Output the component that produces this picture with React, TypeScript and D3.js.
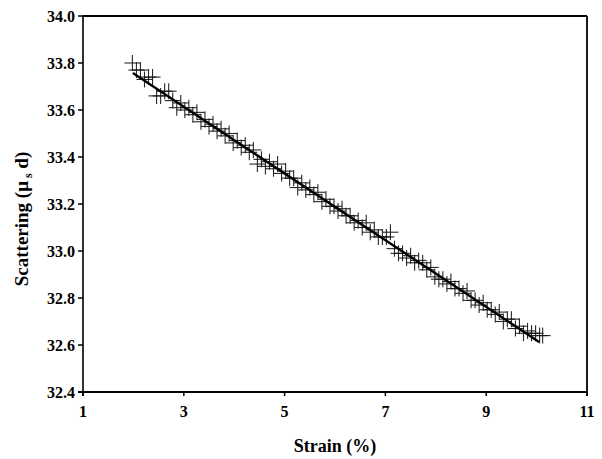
import React from "react";
import * as d3 from "d3";

const strain = [1.98, 2.06, 2.14, 2.22, 2.30, 2.38, 2.46, 2.54, 2.62, 2.70, 2.78, 2.86, 2.94, 3.02, 3.10, 3.18, 3.26, 3.34, 3.42, 3.50, 3.58, 3.66, 3.74, 3.82, 3.90, 3.98, 4.06, 4.14, 4.22, 4.30, 4.38, 4.46, 4.54, 4.62, 4.70, 4.78, 4.86, 4.94, 5.02, 5.10, 5.18, 5.26, 5.34, 5.42, 5.50, 5.58, 5.66, 5.74, 5.82, 5.90, 5.98, 6.06, 6.14, 6.22, 6.30, 6.38, 6.46, 6.54, 6.62, 6.70, 6.78, 6.86, 6.94, 7.02, 7.10, 7.18, 7.26, 7.34, 7.42, 7.50, 7.58, 7.66, 7.74, 7.82, 7.90, 7.98, 8.06, 8.14, 8.22, 8.30, 8.38, 8.46, 8.54, 8.62, 8.70, 8.78, 8.86, 8.94, 9.02, 9.10, 9.18, 9.26, 9.34, 9.42, 9.50, 9.58, 9.66, 9.74, 9.82, 9.90, 9.98, 10.06, 10.12];

const scattering = [33.80, 33.77, 33.77, 33.73, 33.74, 33.74, 33.66, 33.66, 33.68, 33.68, 33.64, 33.61, 33.63, 33.60, 33.61, 33.58, 33.59, 33.55, 33.56, 33.53, 33.54, 33.51, 33.52, 33.49, 33.50, 33.46, 33.47, 33.44, 33.45, 33.42, 33.43, 33.37, 33.39, 33.36, 33.38, 33.35, 33.37, 33.33, 33.34, 33.31, 33.31, 33.27, 33.29, 33.26, 33.27, 33.24, 33.25, 33.21, 33.22, 33.19, 33.19, 33.17, 33.18, 33.15, 33.15, 33.12, 33.13, 33.10, 33.12, 33.08, 33.09, 33.06, 33.06, 33.06, 33.08, 33.01, 32.99, 32.99, 32.97, 32.98, 32.95, 32.96, 32.95, 32.92, 32.93, 32.89, 32.88, 32.88, 32.86, 32.87, 32.84, 32.84, 32.82, 32.83, 32.79, 32.79, 32.77, 32.78, 32.75, 32.75, 32.73, 32.74, 32.70, 32.71, 32.71, 32.67, 32.68, 32.65, 32.66, 32.65, 32.65, 32.64, 32.64];

const fitStrain = [1.99, 10.05];
const fitScattering = [33.757, 32.613];

const xTicks = [1, 3, 5, 7, 9, 11];
const yTicks = [32.4, 32.6, 32.8, 33.0, 33.2, 33.4, 33.6, 33.8, 34.0];

const W = 602;
const H = 459;
const left = 83;
const right = 587;
const top = 16;
const bottom = 392;
const font = "'Liberation Serif', 'Times New Roman', serif";

export default function App() {
  const x = d3.scaleLinear().domain([1, 11]).range([left, right]);
  const y = d3.scaleLinear().domain([32.4, 34.0]).range([bottom, top]);
  const fitLine = d3
    .line<number>()
    .x((d) => x(d))
    .y((_, i) => y(fitScattering[i]));
  const arm = 8;

  return (
    <svg width={W} height={H} style={{ position: "absolute", left: 0, top: 0, background: "#fff" }}>
      <rect width={W} height={H} fill="#fff" />
      {/* markers */}
      <g stroke="#111" strokeWidth={1.1} strokeOpacity={0.9}>
        {strain.map((s, i) => {
          const cx = x(s);
          const cy = y(scattering[i]);
          return (
            <g key={i}>
              <line x1={cx - arm} x2={cx + arm} y1={cy} y2={cy} />
              <line x1={cx} x2={cx} y1={cy - arm} y2={cy + arm} />
            </g>
          );
        })}
      </g>
      <path d={fitLine(fitStrain) || ""} fill="none" stroke="#000" strokeWidth={2.4} />
      {/* frame */}
      <line x1={left} x2={right} y1={top} y2={top} stroke="#000" strokeWidth={1.8} />
      <line x1={right} x2={right} y1={top} y2={bottom + 4} stroke="#000" strokeWidth={1.8} />
      <line x1={left} x2={left} y1={top} y2={bottom + 4} stroke="#000" strokeWidth={1.6} />
      <line x1={left - 5} x2={right} y1={bottom} y2={bottom} stroke="#000" strokeWidth={2} />
      {/* y ticks */}
      {yTicks.map((t) => (
        <g key={t}>
          <line x1={left - 5} x2={left} y1={y(t)} y2={y(t)} stroke="#000" strokeWidth={1.5} />
          <text
            x={left - 8}
            y={y(t)}
            dy="0.35em"
            textAnchor="end"
            fontFamily={font}
            fontWeight="bold"
            fontSize={16}
            fill="#000"
          >
            {t.toFixed(1)}
          </text>
        </g>
      ))}
      {/* x ticks */}
      {xTicks.map((t) => (
        <g key={t}>
          <line x1={x(t)} x2={x(t)} y1={bottom} y2={bottom + 4} stroke="#000" strokeWidth={1.5} />
          <text
            x={x(t)}
            y={bottom + 25}
            textAnchor="middle"
            fontFamily={font}
            fontWeight="bold"
            fontSize={16}
            fill="#000"
          >
            {t}
          </text>
        </g>
      ))}
      <text
        x={(left + right) / 2}
        y={452}
        textAnchor="middle"
        fontFamily={font}
        fontWeight="bold"
        fontSize={18}
        fill="#000"
      >
        Strain (%)
      </text>
      <text
        transform={`translate(28, 219) rotate(-90)`}
        textAnchor="middle"
        fontFamily={font}
        fontWeight="bold"
        fontSize={19}
        fill="#000"
      >
        Scattering (μ
        <tspan fontSize={12} dy={4}> s</tspan>
        <tspan dy={-4}> d)</tspan>
      </text>
    </svg>
  );
}
